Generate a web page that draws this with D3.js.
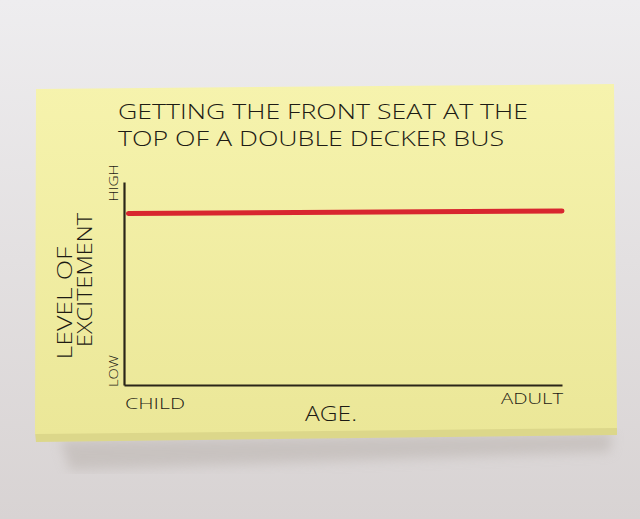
<!DOCTYPE html>
<html>
<head>
<meta charset="utf-8">
<script src="https://cdn.jsdelivr.net/npm/d3@7/dist/d3.min.js"></script>
<style>
  body { margin: 0; background: #e6e3e5; }
  svg { display: block; }
  .ink { font-family: 'Open Sans', 'DejaVu Sans', sans-serif; fill: #1d1b14; font-weight: 300; }
</style>
</head>
<body>
<div id="svgDiv"></div>
<script>
// chart data
const ages = ['CHILD', 'ADULT']
const agePos = [0.01, 1]
const excitement = [0.845, 0.857]
const levelTicks = ['LOW', 'HIGH']
const titleLines = ['GETTING THE FRONT SEAT AT THE', 'TOP OF A DOUBLE DECKER BUS']

var width = 640, height = 519

var svg = d3.select('#svgDiv')
    .append('svg')
        .attr('width', width)
        .attr('height', height)

// background and sticky note
var defs = svg.append('defs')
var bg = defs.append('linearGradient').attr('id', 'bg').attr('x1', 0).attr('y1', 0).attr('x2', 0).attr('y2', 1)
bg.append('stop').attr('offset', '0%').attr('stop-color', '#eeedef')
bg.append('stop').attr('offset', '100%').attr('stop-color', '#d8d3d3')
var note = defs.append('linearGradient').attr('id', 'note').attr('x1', 0).attr('y1', 0).attr('x2', 0).attr('y2', 1)
note.append('stop').attr('offset', '0%').attr('stop-color', '#f6f3ad')
note.append('stop').attr('offset', '100%').attr('stop-color', '#ebe798')
defs.append('filter').attr('id', 'blur').append('feGaussianBlur').attr('stdDeviation', 6)

svg.append('rect').attr('width', width).attr('height', height).attr('fill', 'url(#bg)')

// shadow under the pad
svg.append('path')
    .attr('d', 'M60,440 L612,433 L610,452 L70,470 Z')
    .attr('fill', '#b9b2ad')
    .attr('opacity', 0.55)
    .attr('filter', 'url(#blur)')

// pad edge
svg.append('path')
    .attr('d', 'M35,432 L617,426 L617,435 L36,442 Z')
    .attr('fill', '#dcd78a')
svg.append('path')
    .attr('d', 'M36,89 L614,84 L617,428 L35,434 Z')
    .attr('fill', 'url(#note)')

// scales
var x = d3.scaleLinear().domain([0, 1]).range([124, 562])
var y = d3.scaleLinear().domain([0, 1]).range([385, 182])

// title
svg.selectAll('.title')
    .data(titleLines)
    .join('text')
    .attr('class', 'ink title')
    .attr('x', 118)
    .attr('y', (d, i) => 119 + i * 27)
    .attr('textLength', (d, i) => i == 0 ? 410 : 386)
    .attr('lengthAdjust', 'spacingAndGlyphs')
    .style('font-size', '20px')
    .text(d => d)

// axes (hand drawn, no tick marks)
svg.append('g')
    .attr('transform', 'translate(0,' + y(0) + ')')
    .call(d3.axisBottom(x).tickValues([]).tickSizeOuter(0))
    .call(g => g.select('.domain').attr('stroke', '#2a2518').attr('stroke-width', 2.2))
svg.append('g')
    .attr('transform', 'translate(' + x(0) + ',0)')
    .call(d3.axisLeft(y).tickValues([]).tickSizeOuter(0))
    .call(g => g.select('.domain').attr('stroke', '#2a2518').attr('stroke-width', 2.2))

// y tick labels (rotated)
svg.selectAll('.ylab')
    .data(levelTicks)
    .join('text')
    .attr('class', 'ink ylab')
    .attr('transform', (d, i) => 'translate(118,' + (i == 0 ? y(0) - 14 : y(1) + 1) + ') rotate(-90)')
    .attr('text-anchor', 'middle')
    .attr('textLength', (d, i) => i == 0 ? 32 : 37)
    .attr('lengthAdjust', 'spacingAndGlyphs')
    .style('font-size', '12px')
    .text(d => d)

// x tick labels
svg.selectAll('.xlab')
    .data(ages)
    .join('text')
    .attr('class', 'ink xlab')
    .attr('x', (d, i) => i == 0 ? x(0) + 1 : x(1) + 1)
    .attr('y', (d, i) => i == 0 ? 409 : 404)
    .attr('text-anchor', (d, i) => i == 0 ? 'start' : 'end')
    .attr('textLength', (d, i) => i == 0 ? 60 : 62)
    .attr('lengthAdjust', 'spacingAndGlyphs')
    .style('font-size', '15px')
    .text(d => d)

// axis titles
svg.append('text')
    .attr('class', 'ink')
    .attr('x', 305)
    .attr('y', 421)
    .attr('textLength', 52)
    .attr('lengthAdjust', 'spacingAndGlyphs')
    .style('font-size', '20px')
    .text('AGE.')

svg.append('text')
    .attr('class', 'ink')
    .attr('transform', 'translate(72,303) rotate(-90)')
    .attr('text-anchor', 'middle')
    .attr('textLength', 113)
    .attr('lengthAdjust', 'spacingAndGlyphs')
    .style('font-size', '20px')
    .text('LEVEL OF')
svg.append('text')
    .attr('class', 'ink')
    .attr('transform', 'translate(92,280) rotate(-90)')
    .attr('text-anchor', 'middle')
    .attr('textLength', 134)
    .attr('lengthAdjust', 'spacingAndGlyphs')
    .style('font-size', '20px')
    .text('EXCITEMENT')

// the red line
var line = d3.line()
    .x((d, i) => x(agePos[i]))
    .y(d => y(d))

svg.append('path')
    .datum(excitement)
    .attr('d', line)
    .attr('fill', 'none')
    .attr('stroke', '#d8262f')
    .attr('stroke-width', 5)
    .attr('stroke-linecap', 'round')
</script>
</body>
</html>
